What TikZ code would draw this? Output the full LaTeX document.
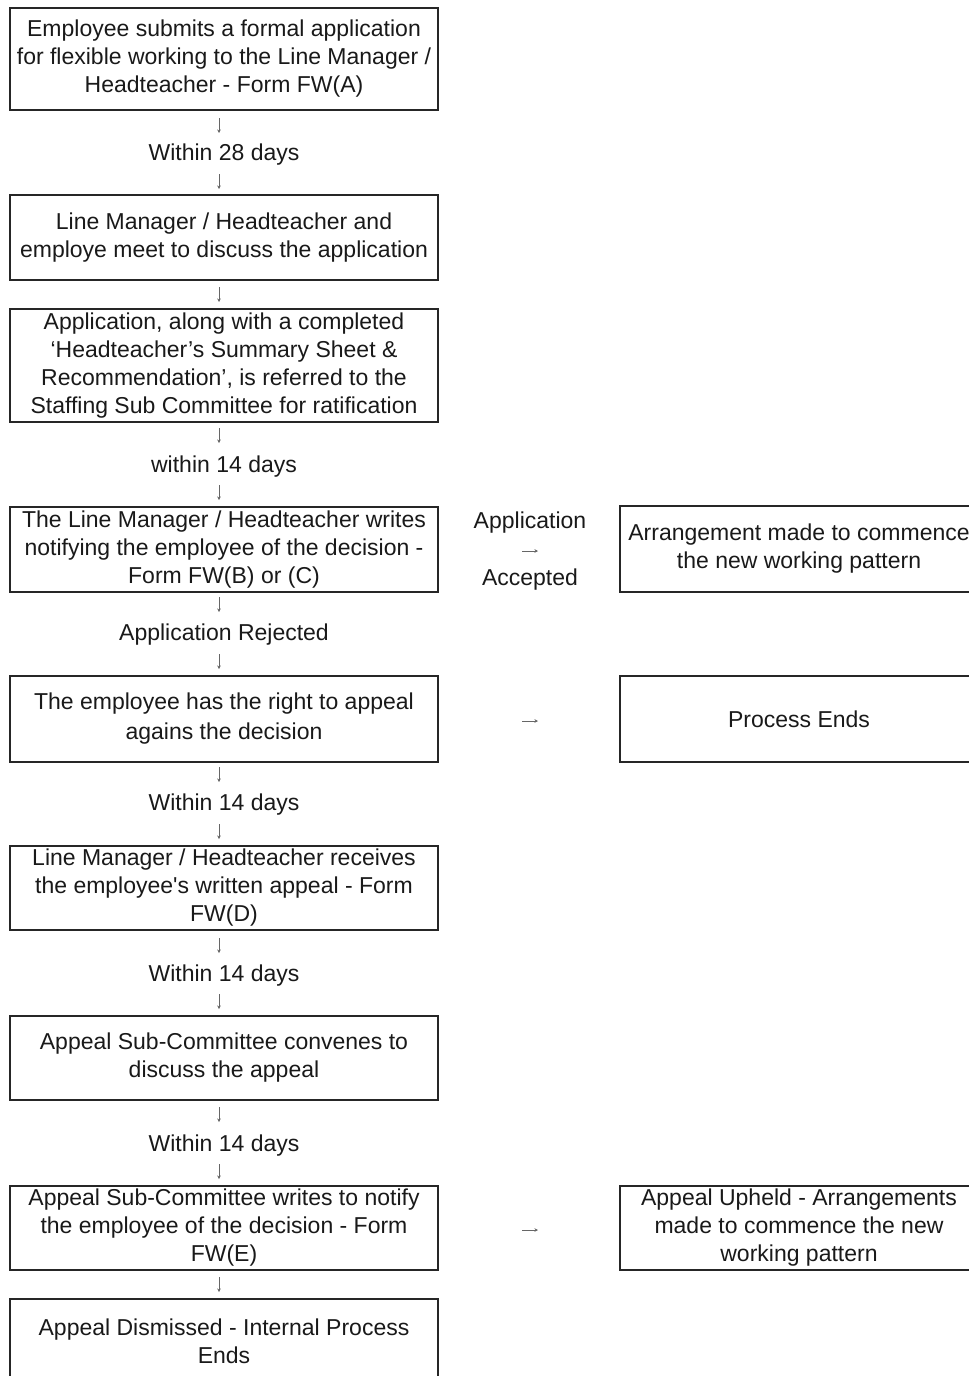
\documentclass[tikz,border=0pt]{standalone}
\usepackage{fontspec}
\setmainfont{Liberation Sans}
\usetikzlibrary{arrows.meta}
\tikzset{
  box/.style={draw=black!85, line width=1.3pt, rectangle, minimum width=428pt, inner sep=0pt,
    align=center, font=\fontsize{23}{28}\selectfont, text=black!90},
  rbox/.style={box, minimum width=358pt},
  lbl/.style={font=\fontsize{23}{28}\selectfont, text=black!90, inner sep=0pt},
  tick/.style={draw=black!60, line width=0.7pt, -{Stealth[length=3.5pt,width=3.5pt]}}
}
\begin{document}
\begin{tikzpicture}[x=1pt,y=-1pt]
\useasboundingbox (0,0) rectangle (969,1376);
% left column boxes
\node[box, minimum height=102pt] (b1) at (224,59) {Employee submits a formal application\\for flexible working to the Line Manager /\\Headteacher - Form FW(A)};
\node[box, minimum height=85pt] (b2) at (224,237.5) {Line Manager / Headteacher and\\employe meet to discuss the application};
\node[box, minimum height=113pt] (b3) at (224,365.5) {Application, along with a completed\\`Headteacher's Summary Sheet \&\\Recommendation', is referred to the\\Staffing Sub Committee for ratification};
\node[box, minimum height=85pt] (b4) at (224,549.5) {The Line Manager / Headteacher writes\\notifying the employee of the decision -\\Form FW(B) or (C)};
\node[box, minimum height=86pt] (b5) at (224,719) {The employee has the right to appeal\\[2pt]agains the decision};
\node[box, minimum height=84pt] (b6) at (224,888) {Line Manager / Headteacher receives\\the employee\textquotesingle s written appeal - Form\\FW(D)};
\node[box, minimum height=84pt] (b7) at (224,1058) {Appeal Sub-Committee convenes to\\discuss the appeal};
\node[box, minimum height=84pt] (b8) at (224,1228) {Appeal Sub-Committee writes to notify\\the employee of the decision - Form\\FW(E)};
\node[box, minimum height=84pt] (b9) at (224,1341) {Appeal Dismissed - Internal Process\\Ends};
% right column boxes
\node[rbox, minimum height=86pt] (r1) at (799,549) {Arrangement made to commence\\the new working pattern};
\node[rbox, minimum height=86pt] (r2) at (799,719) {Process Ends};
\node[rbox, minimum height=84pt] (r3) at (799,1228) {Appeal Upheld - Arrangements\\made to commence the new\\working pattern};
% labels
\node[lbl] (l1) at (224,155) {Within 28 days};
\node[lbl] (l2) at (224,467) {within 14 days};
\node[lbl] (l3) at (224,635) {Application Rejected};
\node[lbl] (l4) at (224,805) {Within 14 days};
\node[lbl] (l5) at (224,976) {Within 14 days};
\node[lbl] (l6) at (224,1146) {Within 14 days};
\node[lbl] (la) at (530,523) {Application};
\node[lbl] (lb) at (530,580) {Accepted};
% small arrow coordinates
\foreach \n/\ya in {a1/118, a2/174, a3/287, a4/428, a5/485, a6/597, a7/654, a8/767, a9/824, a10/938, a11/994, a12/1107, a13/1164, a14/1277}{
  \coordinate (\n s) at (219,\ya);
  \coordinate (\n e) at (219,\ya+15);
}
\foreach \n/\yb in {h1/551, h2/721, h3/1230}{
  \coordinate (\n s) at (522,\yb);
  \coordinate (\n e) at (538,\yb);
}
\foreach \n in {a1,a2,a3,a4,a5,a6,a7,a8,a9,a10,a11,a12,a13,a14,h1,h2,h3}{
  \draw[tick] (\n s) -- (\n e);
}
\end{tikzpicture}
\end{document}
